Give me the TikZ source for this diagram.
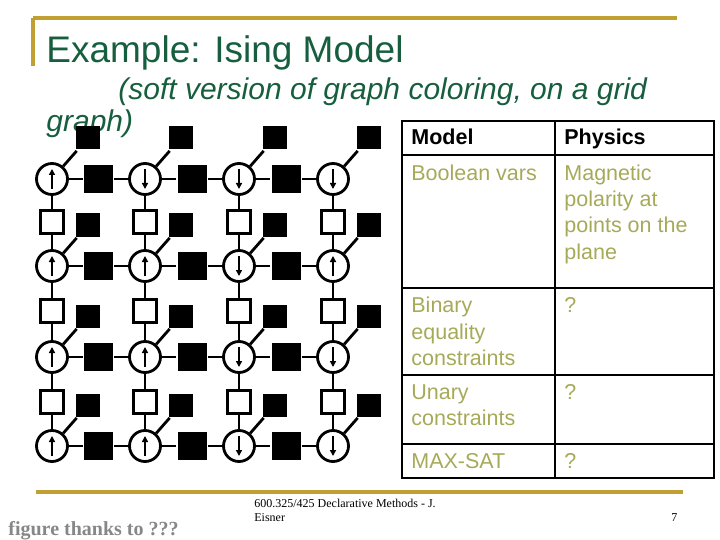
\documentclass[tikz,border=0pt]{standalone}
\usepackage{fontspec}
\setmainfont{Liberation Sans}
\newfontfamily\footserif{Liberation Serif}
\usetikzlibrary{arrows.meta}
\definecolor{titlegreen}{RGB}{22,94,62}
\definecolor{gold}{RGB}{192,160,50}
\definecolor{olive}{RGB}{166,170,88}
\definecolor{footgray}{RGB}{135,135,135}
\begin{document}
\begin{tikzpicture}[x=1pt,y=-1pt,line width=2.8pt,
  spin/.style={circle,draw=black,fill=white,minimum size=31pt,inner sep=0pt},
  pairf/.style={rectangle,draw=black,fill=white,minimum size=23.5pt,inner sep=0pt},
  hf/.style={rectangle,fill=black,minimum width=29pt,minimum height=28pt,inner sep=0pt},
  uf/.style={rectangle,fill=black,minimum width=24pt,minimum height=23pt,inner sep=0pt},
  link/.style={line width=2.8pt},
  spinarrow/.style={line width=1.8pt,-{Triangle[length=6pt,width=6pt]}},
  goldline/.style={gold,line width=3.5pt},
  tabline/.style={black,line width=2.3pt},
  head/.style={anchor=base west,inner sep=0pt,font=\fontsize{21.5}{26}\selectfont\bfseries},
  cell/.style={anchor=base west,inner sep=0pt,text=olive,font=\fontsize{21.5}{26}\selectfont},
  txt/.style={anchor=base west,inner sep=0pt}]
\useasboundingbox (0,0) rectangle (720,540);
% header decoration
\draw[goldline] (33,18) -- (677,18);
\draw[goldline] (33,18) -- (33,66);
\node[txt,text=titlegreen,font=\fontsize{37}{44}\selectfont] (title) at (45,63) {Example: Ising Model};
\node[txt,text=titlegreen,font=\fontsize{30}{34}\selectfont\itshape] (sub1) at (117,100) {(soft version of graph coloring, on a grid};
\node[txt,text=titlegreen,font=\fontsize{30}{34}\selectfont\itshape] (sub2) at (45,132) {graph)};
% grid
\foreach \r/\y in {1/179,2/266,3/357,4/446}{
  \foreach \c/\x in {1/52,2/145,3/239,4/333}{
    \node[spin] (v-\r-\c) at (\x,\y) {};
    \node[uf] (u-\r-\c) at (\x+36,\y-41) {};
    \draw[link] (v-\r-\c) -- (u-\r-\c);
  }
}
\foreach \r/\y in {1/179,2/266,3/357,4/446}{
  \foreach \c/\n/\x in {1/2/98.5,2/3/192,3/4/286}{
    \node[hf] (h-\r-\c) at (\x,\y) {};
    \draw[link] (v-\r-\c) -- (h-\r-\c);
    \draw[link] (h-\r-\c) -- (v-\r-\n);
  }
}
\foreach \r/\n/\y in {1/2/222,2/3/311,3/4/402}{
  \foreach \c/\x in {1/52,2/145,3/239,4/333}{
    \node[pairf] (p-\r-\c) at (\x,\y) {};
    \draw[link] (v-\r-\c) -- (p-\r-\c);
    \draw[link] (p-\r-\c) -- (v-\n-\c);
  }
}
% spins: a/b = start/end vertical shift (up = -10/10)
\foreach \r/\c/\a/\b in {1/1/-10/10,1/2/10/-10,1/3/10/-10,1/4/10/-10,
                          2/1/-10/10,2/2/-10/10,2/3/10/-10,2/4/-10/10,
                          3/1/-10/10,3/2/-10/10,3/3/10/-10,3/4/10/-10,
                          4/1/-10/10,4/2/-10/10,4/3/10/-10,4/4/10/-10}{
  \draw[spinarrow] ([yshift=\a pt]v-\r-\c.center) -- ([yshift=\b pt]v-\r-\c.center);
}
% table
\draw[tabline] (402,121) rectangle (714,478);
\draw[tabline] (555,121) -- (555,478);
\foreach \yy in {155,288,375,444}{\draw[tabline] (402,\yy) -- (714,\yy);}
\node[head] (hm) at (410,145) {Model};
\node[head] (hp) at (563,145) {Physics};
\node[cell] (c1) at (410,181) {Boolean vars};
\node[cell] (p1a) at (563,181) {Magnetic};
\node[cell] (p1b) at (563,207) {polarity at};
\node[cell] (p1c) at (563,233) {points on the};
\node[cell] (p1d) at (563,259) {plane};
\node[cell] (c2a) at (410,312) {Binary};
\node[cell] (c2b) at (410,339) {equality};
\node[cell] (c2c) at (410,365) {constraints};
\node[cell] (p2) at (563,312) {?};
\node[cell] (c3a) at (410,399) {Unary};
\node[cell] (c3b) at (410,425) {constraints};
\node[cell] (p3) at (563,399) {?};
\node[cell] (c4) at (410,468) {MAX-SAT};
\node[cell] (p4) at (563,468) {?};
% footer
\draw[goldline] (36,492) -- (683,492);
\node[txt,font=\footserif\fontsize{12}{14}\selectfont] (f1) at (253,507) {600.325/425 Declarative Methods - J.};
\node[txt,font=\footserif\fontsize{12}{14}\selectfont] (f2) at (253,521) {Eisner};
\node[txt,font=\footserif\fontsize{12}{14}\selectfont] (pg) at (670,521) {7};
\node[txt,text=footgray,font=\footserif\fontsize{20}{24}\selectfont\bfseries] (thanks) at (7,535) {figure thanks to ???};
\end{tikzpicture}
\end{document}
